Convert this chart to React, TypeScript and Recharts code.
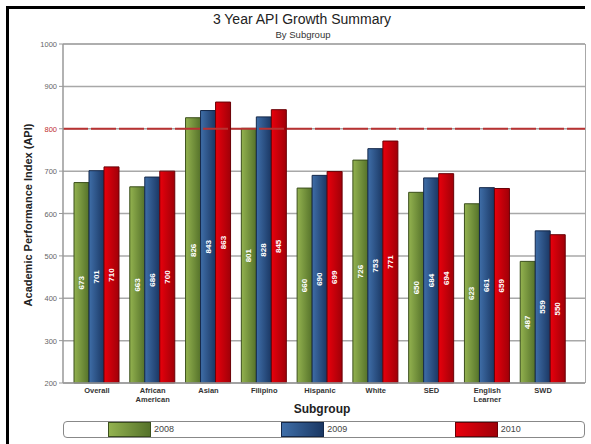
import { BarChart, Bar, XAxis, YAxis, CartesianGrid, ReferenceLine, LabelList } from 'recharts';

const subgroups = ['Overall', 'African American', 'Asian', 'Filipino', 'Hispanic', 'White', 'SED', 'English Learner', 'SWD'];
const api2008 = [673, 663, 826, 801, 660, 726, 650, 623, 487];
const api2009 = [701, 686, 843, 828, 690, 753, 684, 661, 559];
const api2010 = [710, 700, 863, 845, 699, 771, 694, 659, 550];
const yTicks = [200, 300, 400, 500, 600, 700, 800, 900, 1000];
const target = 800;

const series = [
  { key: 'y2008', name: '2008', light: '#93b24f', dark: '#55722a', stroke: '#3b4f1c' },
  { key: 'y2009', name: '2009', light: '#3f6ea8', dark: '#1a3763', stroke: '#14284a' },
  { key: 'y2010', name: '2010', light: '#e8000c', dark: '#a00008', stroke: '#6a0006' },
];

const data = subgroups.map((name, i) => ({
  name,
  y2008: api2008[i],
  y2009: api2009[i],
  y2010: api2010[i],
}));

const font = '"Liberation Sans", Arial, sans-serif';

function XTick(props: any) {
  const { x, y, payload } = props;
  const words = String(payload.value).split(' ');
  return (
    <text x={x} y={y + 2} textAnchor="middle" fontSize={7.5} fontWeight="bold" fill="#333" fontFamily={font}>
      {words.map((w: string, i: number) => (
        <tspan key={i} x={x} dy={i === 0 ? 0 : 9}>{w}</tspan>
      ))}
    </text>
  );
}

function YTick(props: any) {
  const { x, y, payload } = props;
  return (
    <text x={x} y={y + 3} textAnchor="end" fontSize={7.5} fill={payload.value === target ? '#c0302e' : '#666'} fontFamily={font}>
      {payload.value}
    </text>
  );
}

function BarLabel(props: any) {
  const { x, y, width, height, value } = props;
  const cx = x + width / 2;
  const cy = y + height / 2;
  return (
    <text x={cx} y={cy} transform={`rotate(-90 ${cx} ${cy})`} textAnchor="middle" dominantBaseline="central"
      fontSize={8} fontWeight="bold" fill="#fff" fontFamily={font}>
      {value}
    </text>
  );
}

export default function App() {
  return (
    <div style={{ position: 'absolute', left: 0, top: 0, width: 591, height: 444, background: '#fff', fontFamily: font, overflow: 'hidden' }}>
      <div style={{ position: 'absolute', left: 6, top: 6, width: 576, height: 440, borderLeft: '3px solid #000', borderTop: '3px solid #000' }} />
      <div style={{ position: 'absolute', left: 102, width: 400, top: 11, textAlign: 'center', fontSize: 14, color: '#222' }}>
        3 Year API Growth Summary
      </div>
      <div style={{ position: 'absolute', left: 103, width: 400, top: 29, textAlign: 'center', fontSize: 9.5, color: '#333' }}>
        By Subgroup
      </div>
      <div style={{ position: 'absolute', left: 28, top: 215, width: 0, height: 0 }}>
        <div style={{ position: 'absolute', left: -150, top: -8, width: 300, textAlign: 'center', transform: 'rotate(-90deg)',
          fontSize: 11, fontWeight: 'bold', color: '#222', lineHeight: '16px' }}>
          Academic Performance Index (API)
        </div>
      </div>
      <div style={{ position: 'absolute', left: 222, width: 200, top: 402, textAlign: 'center', fontSize: 12, fontWeight: 'bold', color: '#222' }}>
        Subgroup
      </div>
      <BarChart width={591} height={444} data={data} margin={{ top: 44, right: 6, bottom: 33, left: 0 }}
        barCategoryGap={5} barGap={0} style={{ position: 'absolute', left: 0, top: 0 }}>
        <defs>
          {series.map((s) => (
            <linearGradient key={s.key} id={`g-${s.key}`} x1="0" y1="0" x2="1" y2="0">
              <stop offset="0%" stopColor={s.light} />
              <stop offset="100%" stopColor={s.dark} />
            </linearGradient>
          ))}
        </defs>
        <CartesianGrid vertical={false} stroke="#a8a8a8" strokeWidth={1.5} />
        <XAxis dataKey="name" height={28} tick={<XTick />} tickLine={false} interval={0} padding={{ left: 6, right: 14 }}
          axisLine={{ stroke: '#999', strokeWidth: 1.5 }} />
        <YAxis width={63} domain={[200, 1000]} ticks={yTicks} tick={<YTick />} tickSize={4}
          tickLine={{ stroke: '#999' }} axisLine={{ stroke: '#999', strokeWidth: 1.5 }} />
        <ReferenceLine y={1000} stroke="#a8a8a8" strokeWidth={1.5} />
        <ReferenceLine y={target} stroke="#b83232" strokeWidth={2} strokeDasharray="25 3" />
        {series.map((s) => (
          <Bar key={s.key} dataKey={s.key} name={s.name} fill={`url(#g-${s.key})`} stroke={s.stroke} strokeWidth={1} isAnimationActive={false}>
            <LabelList dataKey={s.key} content={<BarLabel />} />
          </Bar>
        ))}
      </BarChart>
      <div style={{ position: 'absolute', left: 585, top: 44, width: 0, height: 339, borderLeft: '1.5px solid #a8a8a8' }} />
      <div style={{ position: 'absolute', left: 63, top: 421, width: 520, height: 15, border: '1px solid #888', borderRadius: 4, display: 'flex' }}>
        {series.map((s) => (
          <div key={s.key} style={{ flex: 1, position: 'relative' }}>
            <div style={{ position: 'absolute', left: 44, top: 0, width: 43, height: 15, boxSizing: 'border-box',
              background: `linear-gradient(to right, ${s.light}, ${s.dark})`, border: `1px solid ${s.stroke}` }} />
            <div style={{ position: 'absolute', left: 90, top: 2, fontSize: 9, color: '#444' }}>{s.name}</div>
          </div>
        ))}
      </div>
    </div>
  );
}
